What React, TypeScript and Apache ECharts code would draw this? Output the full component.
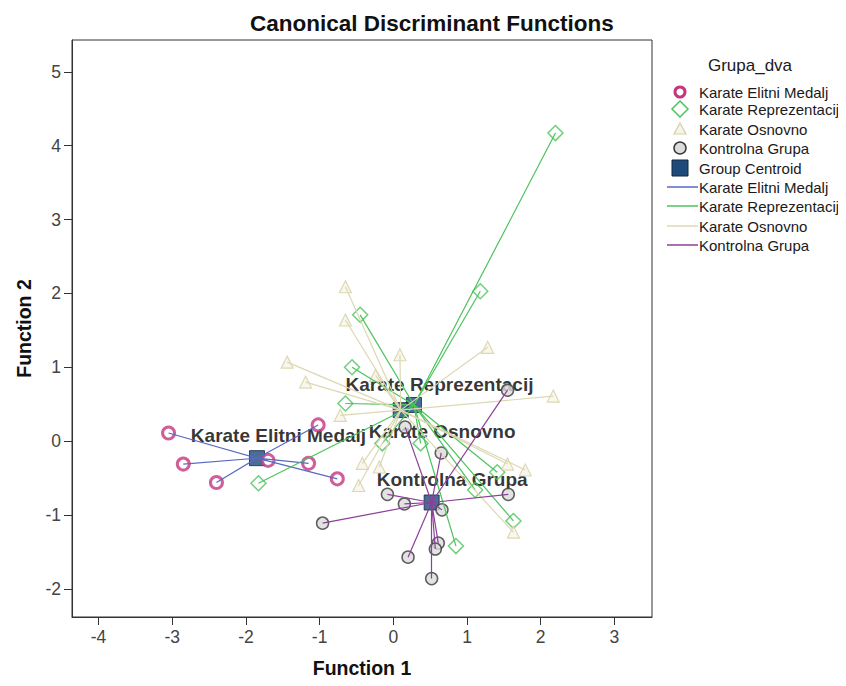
import React, { useEffect, useRef } from 'react';
import * as echarts from 'echarts';

const groupNames = ['Karate Elitni Medalj', 'Karate Reprezentacij', 'Karate Osnovno', 'Kontrolna Grupa'];
const centroidF1 = [-1.85, 0.28, 0.1, 0.52];
const centroidF2 = [-0.23, 0.49, 0.42, -0.83];

const elitniPoints = [
  [-3.05, 0.11], [-2.85, -0.31], [-2.4, -0.56], [-1.7, -0.26], [-1.15, -0.3], [-1.02, 0.22], [-0.76, -0.51],
];
const reprezentacijPoints = [
  [2.2, 4.17], [1.18, 2.03], [-0.45, 1.71], [-0.56, 1.0], [-0.65, 0.51], [-1.83, -0.57],
  [-0.15, -0.03], [0.37, -0.03], [1.11, -0.66], [1.41, -0.42], [1.63, -1.08], [0.85, -1.42],
];
const osnovnoPoints = [
  [-0.65, 2.09], [-0.65, 1.64], [-1.44, 1.07], [-1.19, 0.8], [0.09, 1.17], [1.28, 1.27], [2.17, 0.61],
  [-0.72, 0.35], [-0.42, -0.3], [-0.19, -0.35], [-0.47, -0.6], [1.55, -0.31], [1.79, -0.39], [1.63, -1.23],
  [-0.24, 0.89],
];
const kontrolnaPoints = [
  [1.55, 0.69], [0.16, 0.19], [0.65, -0.16], [-0.08, -0.72], [0.15, -0.85], [0.66, -0.93], [1.56, -0.72],
  [-0.96, -1.11], [0.61, -1.38], [0.57, -1.46], [0.2, -1.57], [0.52, -1.86],
];
const xTicks = [-4, -3, -2, -1, 0, 1, 2, 3];
const yTicks = [-2, -1, 0, 1, 2, 3, 4, 5];

const groupPoints = [elitniPoints, reprezentacijPoints, osnovnoPoints, kontrolnaPoints];
const lineColors = ['#5868c4', '#4cc35c', '#dcd8b2', '#8b3f99'];
const labelOffsets = [[22, -22], [26, -20], [42, 22], [21, -22]];

const FONT = '"Liberation Sans", Arial, sans-serif';
const CENTROID_SIZE = 15;

const symbolStyles: any[] = [
  { symbol: 'circle', symbolSize: 12, itemStyle: { color: '#ffffff', borderColor: '#c6367f', borderWidth: 3 } },
  { symbol: 'diamond', symbolSize: 15, itemStyle: { color: 'rgba(255,255,255,0)', borderColor: '#4cc35c', borderWidth: 1.5 } },
  { symbol: 'triangle', symbolSize: 12, itemStyle: { color: '#f6f4e8', borderColor: '#d4cfa2', borderWidth: 1.2 } },
  { symbol: 'circle', symbolSize: 12, itemStyle: { color: '#dcdcdc', borderColor: '#3a3a3a', borderWidth: 1.5 } },
];

function buildLegend() {
  const children: any[] = [];
  const x0 = 680;
  const tx = 699;
  const rows = [92, 109, 129, 148, 168, 187, 206, 226, 245];
  const fontStyle = { fontFamily: FONT, fontSize: 15, fill: '#1a1a1a' };
  children.push({
    type: 'text', x: 750, y: 65,
    style: { text: 'Grupa_dva', fontFamily: FONT, fontSize: 17, fill: '#1a1a1a', align: 'center', verticalAlign: 'middle' },
  });
  const labels = [...groupNames, 'Group Centroid', ...groupNames];
  labels.forEach((t, i) => {
    children.push({
      type: 'text', x: tx, y: rows[i],
      style: { ...fontStyle, text: t, verticalAlign: 'middle' },
    });
  });
  children.push({ type: 'circle', shape: { cx: x0, cy: rows[0], r: 5 }, style: { fill: '#fff', stroke: '#c6367f', lineWidth: 3 } });
  children.push({
    type: 'polygon',
    shape: { points: [[x0, rows[1] - 8], [x0 + 8, rows[1]], [x0, rows[1] + 8], [x0 - 8, rows[1]]] },
    style: { fill: 'none', stroke: '#4cc35c', lineWidth: 1.5 },
  });
  children.push({
    type: 'polygon',
    shape: { points: [[x0, rows[2] - 6], [x0 + 6, rows[2] + 5], [x0 - 6, rows[2] + 5]] },
    style: { fill: '#f6f4e8', stroke: '#d4cfa2', lineWidth: 1.2 },
  });
  children.push({ type: 'circle', shape: { cx: x0, cy: rows[3], r: 6 }, style: { fill: '#dcdcdc', stroke: '#3a3a3a', lineWidth: 1.5 } });
  children.push({ type: 'rect', shape: { x: x0 - 8, y: rows[4] - 8, width: 16, height: 16 }, style: { fill: '#1e4a7a', stroke: '#0d2740', lineWidth: 1 } });
  lineColors.forEach((c, i) => {
    children.push({ type: 'line', shape: { x1: 667, y1: rows[5 + i], x2: 698, y2: rows[5 + i] }, style: { stroke: c, lineWidth: 1.5 } });
  });
  return children;
}

export default function App() {
  const ref = useRef<HTMLDivElement>(null);
  useEffect(() => {
    if (!ref.current) return;
    const chart = echarts.init(ref.current, undefined, { renderer: 'svg' });
    const series: any[] = [];
    groupPoints.forEach((pts, g) => {
      series.push({
        type: 'scatter',
        name: groupNames[g] + ' points',
        data: pts,
        z: 3,
        ...symbolStyles[g],
      });
    });
    series.push({
      type: 'scatter',
      name: 'Group Centroid',
      symbol: 'rect',
      symbolSize: CENTROID_SIZE,
      z: 2,
      itemStyle: { color: '#1e4a7a', borderColor: '#0d2740', borderWidth: 1 },
      data: centroidF1.map((x, i) => ({
        value: [x, centroidF2[i]],
        label: {
          show: true,
          position: [CENTROID_SIZE / 2 + labelOffsets[i][0], CENTROID_SIZE / 2 + labelOffsets[i][1]],
          align: 'center',
          verticalAlign: 'middle',
          formatter: groupNames[i],
          fontFamily: FONT,
          fontSize: 19,
          fontWeight: 'bold',
          color: '#000',
        },
      })),
    });
    groupPoints.forEach((pts, g) => {
      series.push({
        type: 'lines',
        name: groupNames[g] + ' lines',
        coordinateSystem: 'cartesian2d',
        z: 4,
        lineStyle: { color: lineColors[g], width: 1.2, opacity: 1 },
        data: pts.map((p) => ({ coords: [[centroidF1[g], centroidF2[g]], p] })),
      });
    });

    chart.setOption({
      animation: false,
      backgroundColor: '#ffffff',
      title: {
        text: 'Canonical Discriminant Functions',
        left: 245,
        top: 7,
        textStyle: { fontFamily: FONT, fontSize: 22.5, fontWeight: 'bold', color: '#111' },
      },
      grid: {
        left: 72, right: 194, top: 40, bottom: 69, show: true, borderColor: '#333', borderWidth: 1, backgroundColor: '#fff',
        containLabel: false, outerBoundsMode: 'none',
      },
      xAxis: {
        type: 'value',
        min: -4.36,
        max: 3.51,
        name: 'Function 1',
        nameLocation: 'middle',
        nameGap: 41,
        nameTextStyle: { fontFamily: FONT, fontSize: 19.5, fontWeight: 'bold', color: '#111' },
        axisLine: { show: true, onZero: false, lineStyle: { color: '#333' } },
        axisTick: { show: true, length: 8, customValues: xTicks, lineStyle: { color: '#333' } },
        axisLabel: { customValues: xTicks, fontFamily: FONT, fontSize: 17.5, color: '#444', margin: 11 },
        splitLine: { show: false },
      },
      yAxis: {
        type: 'value',
        min: -2.38,
        max: 5.43,
        name: 'Function 2',
        nameLocation: 'middle',
        nameGap: 38,
        nameRotate: 90,
        nameTextStyle: { fontFamily: FONT, fontSize: 19.5, fontWeight: 'bold', color: '#111' },
        axisLine: { show: true, onZero: false, lineStyle: { color: '#333' } },
        axisTick: { show: true, length: 8, customValues: yTicks, lineStyle: { color: '#333' } },
        axisLabel: { customValues: yTicks, fontFamily: FONT, fontSize: 17.5, color: '#444', margin: 11 },
        splitLine: { show: false },
      },
      graphic: buildLegend(),
      series,
    });
    return () => chart.dispose();
  }, []);
  return <div ref={ref} style={{ width: 846, height: 686, margin: -8 }} />;
}
